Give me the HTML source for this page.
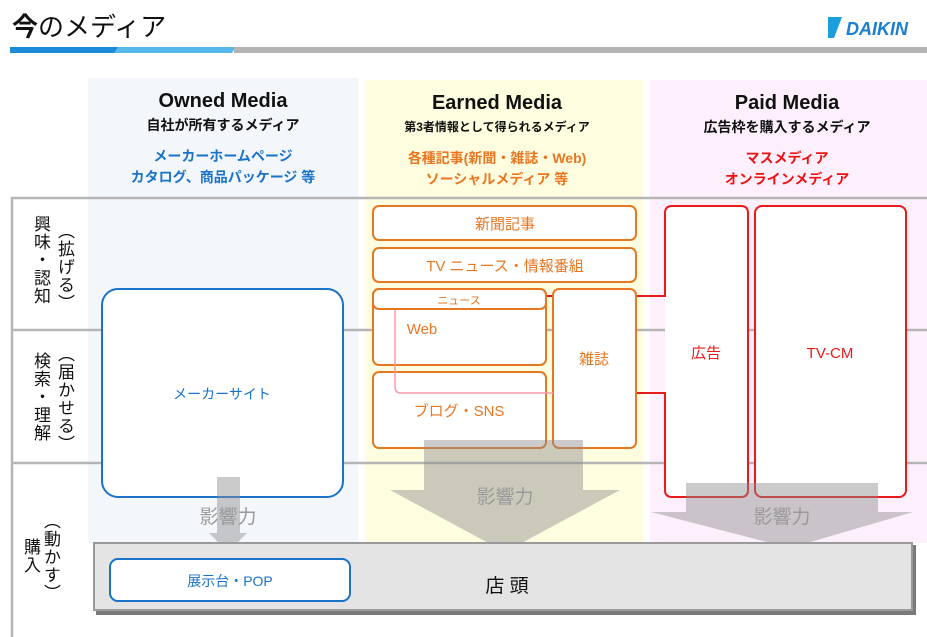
<!DOCTYPE html>
<html><head><meta charset="utf-8"><style>
body{margin:0;width:927px;height:637px;background:#fff;overflow:hidden;position:relative;font-family:"Liberation Sans","Noto Sans CJK JP",sans-serif}
svg{position:absolute;left:0;top:0}
.v{position:absolute;writing-mode:vertical-rl;font-size:17px;color:#111;line-height:20px;letter-spacing:1px}
</style></head><body>
<svg width="927" height="637" viewBox="0 0 927 637" font-family="Liberation Sans, Noto Sans CJK JP, sans-serif">
<text x="12" y="36" font-size="26" fill="#111"><tspan font-weight="bold">今</tspan>のメディア</text>
<rect x="10" y="47" width="112" height="6" fill="#1b8ad8"/>
<polygon points="118,47 236,47 232,53 114,53" fill="#58b8ec"/>
<rect x="234" y="47" width="693" height="6" fill="#b3b3b3"/>
<polygon points="828,17 842,17 834,38 828,38" fill="#1a9fdc"/>
<text x="846" y="35" font-size="18" font-weight="bold" font-style="italic" fill="#1a7fd0">DAIKIN</text>
<rect x="88" y="78" width="270" height="465" fill="#f3f6fb"/>
<rect x="365" y="80" width="278" height="463" fill="#fffde0"/>
<rect x="650" y="80" width="277" height="463" fill="#fdf0fc"/>
<g stroke="#b5b5b5" stroke-width="2.5" fill="none">
<path d="M927,198 H12 V637"/>
<line x1="12" y1="330" x2="927" y2="330"/>
<line x1="12" y1="463" x2="927" y2="463"/>
</g>
<g text-anchor="middle">
<text x="223" y="107" font-size="20" font-weight="bold" fill="#111">Owned Media</text>
<text x="223" y="130" font-size="14" font-weight="bold" fill="#111">自社が所有するメディア</text>
<text x="223" y="161" font-size="14" font-weight="bold" fill="#1a73c8">メーカーホームページ</text>
<text x="223" y="182" font-size="14" font-weight="bold" fill="#1a73c8">カタログ、商品パッケージ 等</text>
<text x="497" y="109" font-size="20" font-weight="bold" fill="#111">Earned Media</text>
<text x="497" y="131" font-size="12" font-weight="bold" fill="#111">第3者情報として得られるメディア</text>
<text x="497" y="163" font-size="14" font-weight="bold" fill="#e87722">各種記事(新聞・雑誌・Web)</text>
<text x="497" y="184" font-size="14" font-weight="bold" fill="#e87722">ソーシャルメディア 等</text>
<text x="787" y="109" font-size="20" font-weight="bold" fill="#111">Paid Media</text>
<text x="787" y="132" font-size="14" font-weight="bold" fill="#111">広告枠を購入するメディア</text>
<text x="787" y="163" font-size="14" font-weight="bold" fill="#ee1111">マスメディア</text>
<text x="787" y="184" font-size="14" font-weight="bold" fill="#ee1111">オンラインメディア</text>
</g>
<rect x="102" y="289" width="241" height="208" rx="16" fill="#fff" stroke="#1a73c8" stroke-width="2"/>
<text x="222" y="399" font-size="14" fill="#1a73c8" text-anchor="middle">メーカーサイト</text>
<rect x="665" y="206" width="83" height="291" rx="7" fill="#fff"/>
<path d="M546,296 H665 V213 Q665,206 672,206 H741 Q748,206 748,213 V490 Q748,497 741,497 H672 Q665,497 665,490 V393 H636" stroke="#e81a1a" stroke-width="2" fill="none"/>
<g stroke="#e87722" stroke-width="2" fill="#fff">
<rect x="373" y="206" width="263" height="34" rx="6"/>
<rect x="373" y="248" width="263" height="34" rx="6"/>
<rect x="373" y="289" width="173" height="76" rx="6"/>
<rect x="373" y="289" width="173" height="20" rx="6"/>
<rect x="373" y="372" width="173" height="76" rx="6"/>
<rect x="553" y="289" width="83" height="159" rx="6"/>
</g>
<path d="M395,310 V387 Q395,393 401,393 H553" stroke="#ff9aa8" stroke-width="1.5" fill="none"/>
<g fill="#e87722" text-anchor="middle">
<text x="505" y="229" font-size="15">新聞記事</text>
<text x="505" y="271" font-size="15">TV ニュース・情報番組</text>
<text x="459" y="304" font-size="11">ニュース</text>
<text x="422" y="334" font-size="15">Web</text>
<text x="459" y="416" font-size="15">ブログ・SNS</text>
<text x="594" y="364" font-size="15">雑誌</text>
</g>
<rect x="755" y="206" width="151" height="291" rx="7" stroke="#e81a1a" stroke-width="2" fill="#fff"/>
<text x="706" y="358" font-size="15" fill="#e81a1a" text-anchor="middle">広告</text>
<text x="830" y="358" font-size="15" fill="#e81a1a" text-anchor="middle">TV-CM</text>
<g fill="#8c8c8c" fill-opacity="0.45">
<polygon points="217,477 240,477 240,533 247,533 228,552 209,533 217,533"/>
<polygon points="424,440 583,440 583,490 620,490 505,552 390,490 424,490"/>
<polygon points="686,483 878,483 878,512 913,512 790,548 651,512 686,512"/>
</g>
<g fill="#999" font-size="19" text-anchor="middle">
<text x="228" y="523">影響力</text>
<text x="505" y="503">影響力</text>
<text x="782" y="523">影響力</text>
</g>
<rect x="96" y="545" width="820" height="70" fill="#7a7a7a"/>
<rect x="94" y="543" width="818" height="67" fill="#e4e4e4" stroke="#9a9a9a" stroke-width="2"/>
<rect x="110" y="559" width="240" height="42" rx="8" fill="#fff" stroke="#1a73c8" stroke-width="2"/>
<text x="230" y="586" font-size="14" fill="#1a73c8" text-anchor="middle">展示台・POP</text>
<text x="507" y="592" font-size="19" fill="#111" text-anchor="middle">店 頭</text>
</svg>
<div class="v" style="left:30px;top:215px">興味・認知</div>
<div class="v" style="left:54px;top:222px">（拡げる）</div>
<div class="v" style="left:30px;top:352px">検索・理解</div>
<div class="v" style="left:54px;top:345px">（届かせる）</div>
<div class="v" style="left:20px;top:538px">購入</div>
<div class="v" style="left:40px;top:512px">（動かす）</div>
</body></html>
